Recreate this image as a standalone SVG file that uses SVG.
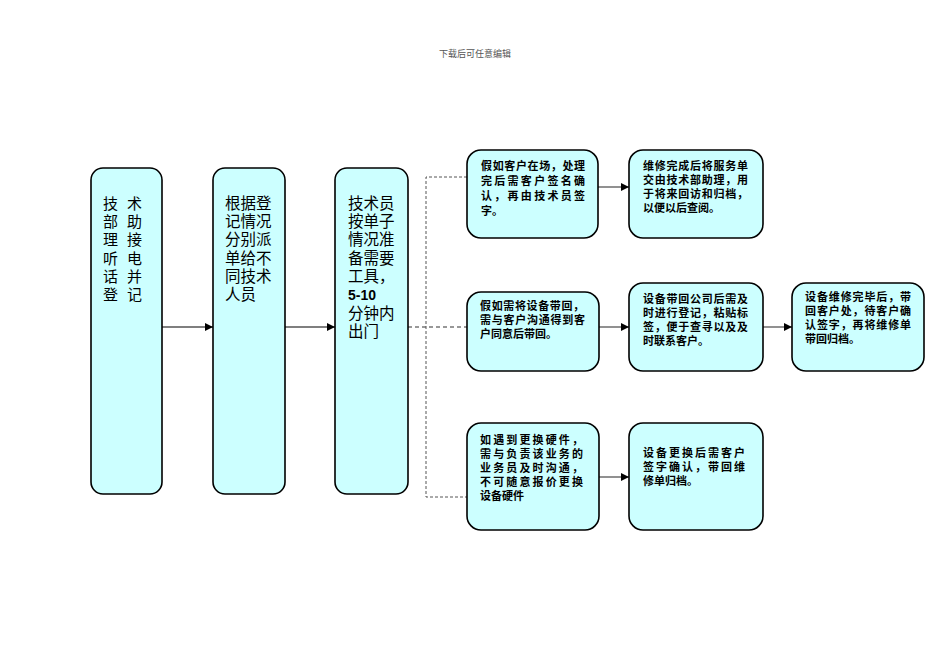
<svg xmlns="http://www.w3.org/2000/svg" width="950" height="672" viewBox="0 0 950 672">
<defs>
<style>
.box{fill:#CCFFFF;stroke:#000;stroke-width:1.6}
.big{font-family:"Noto Sans CJK SC","Noto Sans",sans-serif;font-size:15px;fill:#000}
.sm{font-family:"Noto Sans CJK SC","Noto Sans",sans-serif;font-size:11px;font-weight:bold;fill:#000}
.num{font-family:"Liberation Sans",Arial,sans-serif;font-weight:bold;font-size:14px}
.arr{stroke:#555;stroke-width:1.3;fill:none;marker-end:url(#ah)}
.dash{stroke:#555;stroke-width:1;fill:none;stroke-dasharray:3 2}
.dash2{stroke:#777;stroke-width:1.5;fill:none;stroke-dasharray:4 3}
</style>
<marker id="ah" viewBox="0 0 10 10" refX="10" refY="5" markerWidth="8" markerHeight="8" markerUnits="userSpaceOnUse" orient="auto">
<path d="M0,0 L10,5 L0,10 Z" fill="#000"/>
</marker>
</defs>
<rect width="950" height="672" fill="#fff"/>
<text x="475" y="57" text-anchor="middle" font-family="Noto Sans CJK SC,sans-serif" font-size="9" fill="#555">下载后可任意编辑</text>

<g id="connectors">
<line class="arr" x1="162" y1="327" x2="213" y2="327"/>
<line class="arr" x1="285" y1="327" x2="335" y2="327"/>
<line class="dash2" x1="408" y1="327" x2="467" y2="327"/>
<polyline class="dash" points="467,177 426,177 426,497 467,497"/>
<line class="arr" x1="598" y1="187" x2="629" y2="187"/>
<line class="arr" x1="599" y1="327" x2="629" y2="327"/>
<line class="arr" x1="763" y1="327" x2="792" y2="327"/>
<line class="arr" x1="599" y1="477" x2="629" y2="477"/>
</g>

<g id="n1">
<rect class="box" x="91" y="168" width="71" height="326" rx="12"/>
<text class="big"><tspan x="103" y="209">技</tspan><tspan x="103" y="227">部</tspan><tspan x="103" y="245">理</tspan><tspan x="103" y="264">听</tspan><tspan x="103" y="282">话</tspan><tspan x="103" y="300">登</tspan></text>
<text class="big"><tspan x="127" y="209">术</tspan><tspan x="127" y="227">助</tspan><tspan x="127" y="245">接</tspan><tspan x="127" y="264">电</tspan><tspan x="127" y="282">并</tspan><tspan x="127" y="300">记</tspan></text>
</g>

<g id="n2">
<rect class="box" x="213" y="168" width="72" height="326" rx="12"/>
<text class="big" style="font-size:15.5px"><tspan x="225" y="209">根据登</tspan><tspan x="225" y="227">记情况</tspan><tspan x="225" y="245">分别派</tspan><tspan x="225" y="264">单给不</tspan><tspan x="225" y="282">同技术</tspan><tspan x="225" y="300">人员</tspan></text>
</g>

<g id="n3">
<rect class="box" x="335" y="168" width="73" height="326" rx="12"/>
<text class="big" style="font-size:15.5px"><tspan x="348" y="209">技术员</tspan><tspan x="348" y="227">按单子</tspan><tspan x="348" y="245">情况准</tspan><tspan x="348" y="264">备需要</tspan><tspan x="348" y="282">工具，</tspan><tspan x="348" y="300" class="num">5-10</tspan><tspan x="348" y="319">分钟内</tspan><tspan x="348" y="337">出门</tspan></text>
</g>

<g id="nA">
<rect class="box" x="467" y="150" width="131" height="88" rx="14"/>
<text class="sm"><tspan x="481" y="170" textLength="104" lengthAdjust="spacing">假如客户在场，处理</tspan><tspan x="481" y="185" textLength="104" lengthAdjust="spacing">完后需客户签名确</tspan><tspan x="481" y="200" textLength="104" lengthAdjust="spacing">认，再由技术员签</tspan><tspan x="481" y="215">字。</tspan></text>
</g>

<g id="nB">
<rect class="box" x="629" y="150" width="134" height="88" rx="14"/>
<text class="sm"><tspan x="643" y="170" textLength="105" lengthAdjust="spacing">维修完成后将服务单</tspan><tspan x="643" y="184" textLength="105" lengthAdjust="spacing">交由技术部助理，用</tspan><tspan x="643" y="198" textLength="105" lengthAdjust="spacing">于将来回访和归档，</tspan><tspan x="643" y="212">以便以后查阅。</tspan></text>
</g>

<g id="nC">
<rect class="box" x="467" y="292" width="132" height="79" rx="14"/>
<text class="sm"><tspan x="480" y="310" textLength="104" lengthAdjust="spacing">假如需将设备带回，</tspan><tspan x="480" y="324" textLength="105" lengthAdjust="spacing">需与客户沟通得到客</tspan><tspan x="480" y="338">户同意后带回。</tspan></text>
</g>

<g id="nD">
<rect class="box" x="629" y="283" width="134" height="88" rx="14"/>
<text class="sm"><tspan x="643" y="303" textLength="105" lengthAdjust="spacing">设备带回公司后需及</tspan><tspan x="643" y="317" textLength="105" lengthAdjust="spacing">时进行登记，粘贴标</tspan><tspan x="643" y="331" textLength="105" lengthAdjust="spacing">签，便于查寻以及及</tspan><tspan x="643" y="345">时联系客户。</tspan></text>
</g>

<g id="nE">
<rect class="box" x="792" y="283" width="132" height="88" rx="14"/>
<text class="sm"><tspan x="805" y="301" textLength="106" lengthAdjust="spacing">设备维修完毕后，带</tspan><tspan x="805" y="315" textLength="106" lengthAdjust="spacing">回客户处，待客户确</tspan><tspan x="805" y="329" textLength="106" lengthAdjust="spacing">认签字，再将维修单</tspan><tspan x="805" y="343">带回归档。</tspan></text>
</g>

<g id="nF">
<rect class="box" x="467" y="423" width="132" height="107" rx="14"/>
<text class="sm"><tspan x="480" y="444" textLength="103" lengthAdjust="spacing">如遇到更换硬件，</tspan><tspan x="480" y="458" textLength="103" lengthAdjust="spacing">需与负责该业务的</tspan><tspan x="480" y="472" textLength="103" lengthAdjust="spacing">业务员及时沟通，</tspan><tspan x="480" y="486" textLength="103" lengthAdjust="spacing">不可随意报价更换</tspan><tspan x="480" y="500">设备硬件</tspan></text>
</g>

<g id="nG">
<rect class="box" x="629" y="423" width="134" height="107" rx="14"/>
<text class="sm"><tspan x="643" y="457" textLength="102" lengthAdjust="spacing">设备更换后需客户</tspan><tspan x="643" y="471" textLength="102" lengthAdjust="spacing">签字确认，带回维</tspan><tspan x="643" y="485">修单归档。</tspan></text>
</g>
</svg>
